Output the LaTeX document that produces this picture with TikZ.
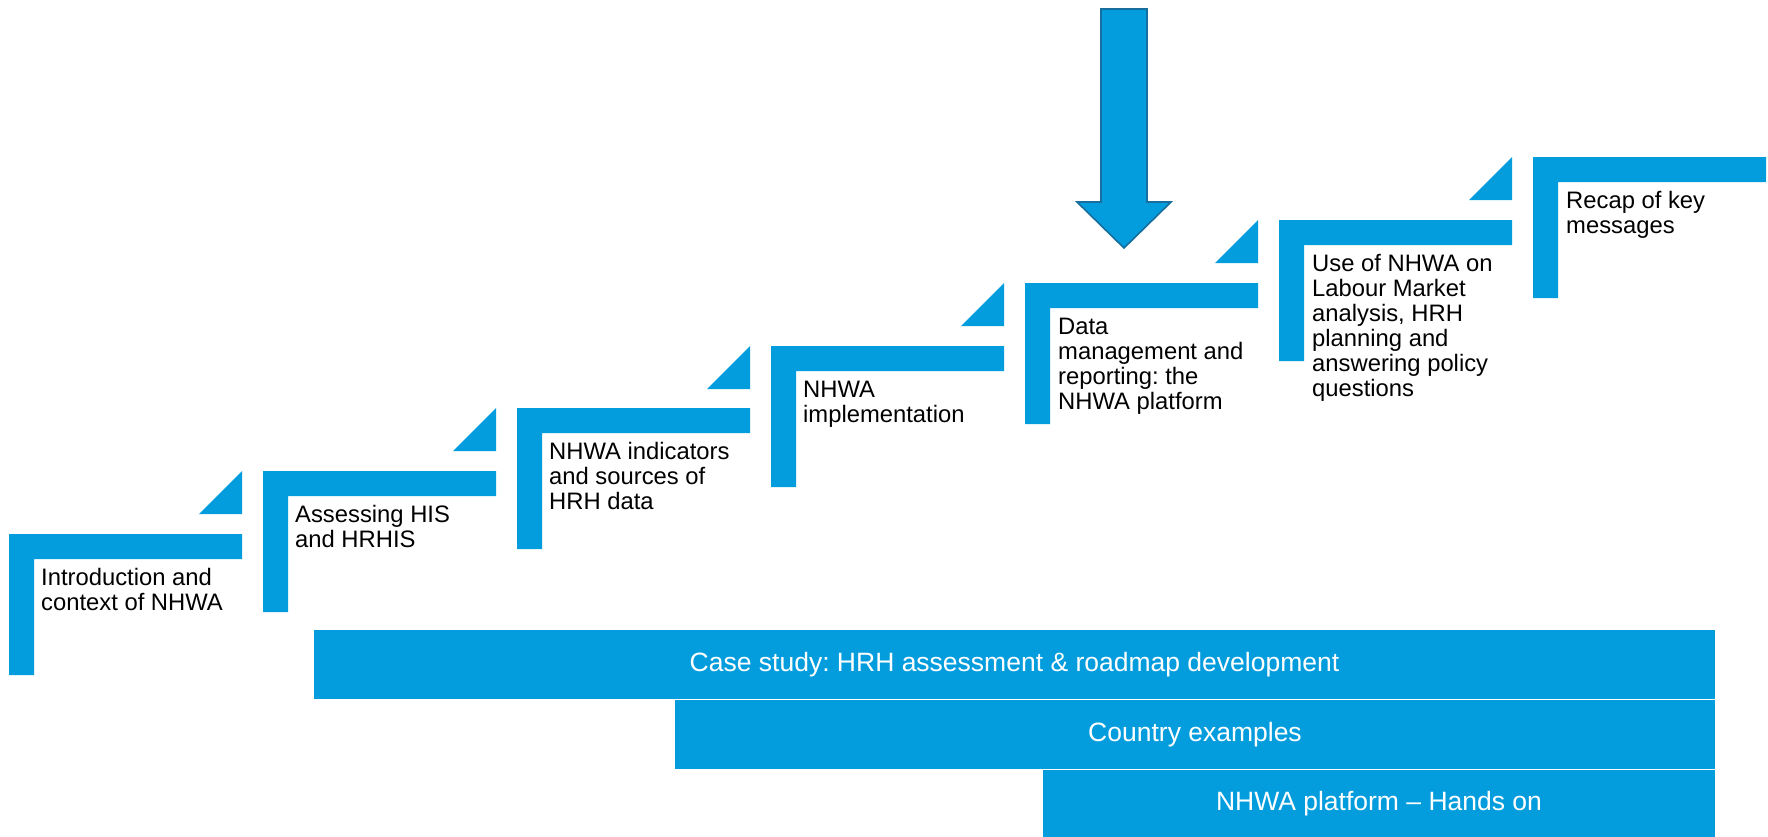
\documentclass[tikz,border=0pt]{standalone}
\usepackage{fontspec}
\setmainfont{Liberation Sans}
\frenchspacing
\definecolor{nblue}{RGB}{3,157,222}
\definecolor{nedge}{RGB}{22,110,158}
\tikzset{
  stepshape/.style={fill=nblue},
  steptext/.style={anchor=north west, inner sep=0pt, align=left, text=black,
    font=\fontsize{23.8}{25}\selectfont},
  barbox/.style={fill=nblue, draw=white, line width=1pt, anchor=north west, inner sep=0pt,
    text=white, font=\fontsize{26.5}{30}\selectfont},
}
\begin{document}
\begin{tikzpicture}[x=1pt,y=-1pt]
\useasboundingbox (0,0) rectangle (1768,836);
% steps: left x and top y
\foreach \i/\x/\t in {0/9/534,1/263/471,2/517/408,3/771/346,4/1025/283,5/1279/220,6/1533/157}{
  \fill[stepshape] (\x,\t) -- ++(233,0) -- ++(0,25) -- ++(-208,0) -- ++(0,116) -- ++(-25,0) -- cycle;
}
% triangles
\foreach \x/\t in {9/471,263/408,517/346,771/283,1025/220,1279/157}{
  \fill[stepshape] (\x+233,\t) -- (\x+233,\t+43) -- (\x+190,\t+43) -- cycle;
}
% step texts
\node[steptext] (s1) at (41,567.5) {\strut Introduction and\\context of NHWA};
\node[steptext] (s2) at (295,504.5) {\strut Assessing HIS\\and HRHIS};
\node[steptext] (s3) at (549,441.5) {\strut NHWA indicators\\and sources of\\HRH data};
\node[steptext] (s4) at (803,379.5) {\strut NHWA\\implementation};
\node[steptext] (s5) at (1058,316.5) {\strut Data\\management and\\reporting: the\\NHWA platform};
\node[steptext] (s6) at (1312,253.5) {\strut Use of NHWA on\\Labour Market\\analysis, HRH\\planning and\\answering policy\\questions};
\node[steptext] (s7) at (1566,190.5) {\strut Recap of key\\messages};
% big arrow
\filldraw[fill=nblue, draw=nedge, line width=1.6pt, line join=miter]
  (1101,9) -- (1147,9) -- (1147,202) -- (1171,202) -- (1124,248) -- (1077,202) -- (1101,202) -- cycle;
% bars
\node[barbox, minimum width=1402pt, minimum height=70pt] (b1) at (313,629) {Case study: HRH assessment \& roadmap development};
\node[barbox, minimum width=1041pt, minimum height=70pt] (b2) at (674,699) {Country examples};
\node[barbox, minimum width=673pt, minimum height=68pt] (b3) at (1042,769) {NHWA platform – Hands on};
\end{tikzpicture}
\end{document}
